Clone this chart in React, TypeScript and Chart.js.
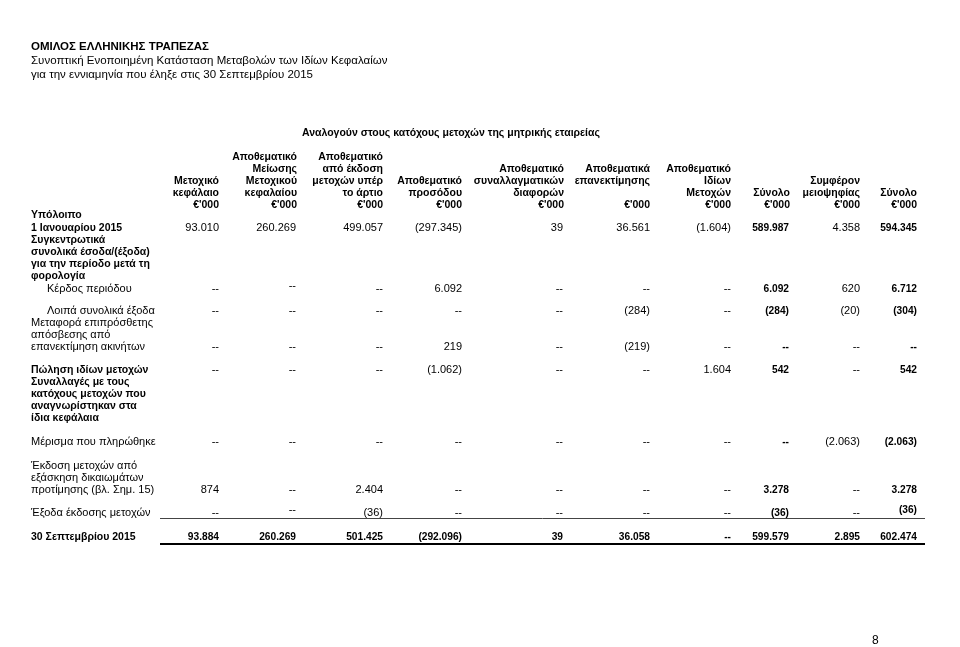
import React, { useEffect, useRef } from "react";
import { Chart, registerables } from "chart.js";

Chart.register(...registerables);

const FONT = '"Liberation Sans", Arial, Helvetica, sans-serif';

// ---------- texts ----------
const titleLines = [
  "ΟΜΙΛΟΣ ΕΛΛΗΝΙΚΗΣ ΤΡΑΠΕΖΑΣ",
  "Συνοπτική Ενοποιημένη Κατάσταση Μεταβολών των Ιδίων Κεφαλαίων",
  "για την εννιαμηνία που έληξε στις 30 Σεπτεμβρίου 2015",
];
const groupHeader = "Αναλογούν στους κατόχους μετοχών της μητρικής εταιρείας";

// header lines of each column (5 header lines, bottom aligned)
const columnHeaders: string[][] = [
  ["", "", "Μετοχικό", "κεφάλαιο", "€'000"],
  ["Αποθεματικό", "Μείωσης", "Μετοχικού", "κεφαλαίου", "€'000"],
  ["Αποθεματικό", "από έκδοση", "μετοχών υπέρ", "το άρτιο", "€'000"],
  ["", "", "Αποθεματικό", "προσόδου", "€'000"],
  ["", "Αποθεματικό", "συναλλαγματικών", "διαφορών", "€'000"],
  ["", "Αποθεματικά", "επανεκτίμησης", "", "€'000"],
  ["", "Αποθεματικό", "Ιδίων", "Μετοχών", "€'000"],
  ["", "", "", "Σύνολο", "€'000"],
  ["", "", "Συμφέρον", "μειοψηφίας", "€'000"],
  ["", "", "", "Σύνολο", "€'000"],
];

// row label lines: [text, bold, indented]
const rowLabels: [string, boolean, boolean][] = [
  ["Υπόλοιπο", true, false],
  ["1 Ιανουαρίου 2015", true, false],
  ["Συγκεντρωτικά", true, false],
  ["συνολικά έσοδα/(έξοδα)", true, false],
  ["για την περίοδο μετά τη", true, false],
  ["φορολογία", true, false],
  ["Κέρδος περιόδου", false, true],
  ["Λοιπά συνολικά έξοδα", false, true],
  ["Μεταφορά επιπρόσθετης", false, false],
  ["απόσβεσης από", false, false],
  ["επανεκτίμηση ακινήτων", false, false],
  ["Πώληση ιδίων μετοχών", true, false],
  ["Συναλλαγές με τους", true, false],
  ["κατόχους μετοχών που", true, false],
  ["αναγνωρίστηκαν στα", true, false],
  ["ίδια κεφάλαια", true, false],
  ["Μέρισμα που πληρώθηκε", false, false],
  ["Έκδοση μετοχών από", false, false],
  ["εξάσκηση δικαιωμάτων", false, false],
  ["προτίμησης (βλ. Σημ. 15)", false, false],
  ["Έξοδα έκδοσης μετοχών", false, false],
  ["30 Σεπτεμβρίου 2015", true, false],
];

// ---------- values (€'000), null = "--" ----------
const shareCapital = [93010, null, null, null, null, null, 874, null, 93884];
const capitalReductionReserve = [260269, null, null, null, null, null, null, null, 260269];
const sharePremiumReserve = [499057, null, null, null, null, null, 2404, -36, 501425];
const retainedEarnings = [-297345, 6092, null, 219, -1062, null, null, null, -292096];
const fxReserve = [39, null, null, null, null, null, null, null, 39];
const revaluationReserve = [36561, null, -284, -219, null, null, null, null, 36058];
const treasuryShares = [-1604, null, null, null, 1604, null, null, null, null];
const parentTotal = [589987, 6092, -284, null, 542, null, 3278, -36, 599579];
const minorityInterest = [4358, 620, -20, null, null, -2063, null, null, 2895];
const totalEquity = [594345, 6712, -304, null, 542, -2063, 3278, -36, 602474];

const seriesValues: (number | null)[][] = [
  shareCapital,
  capitalReductionReserve,
  sharePremiumReserve,
  retainedEarnings,
  fxReserve,
  revaluationReserve,
  treasuryShares,
  parentTotal,
  minorityInterest,
  totalEquity,
];
const boldColumns = [false, false, false, false, false, false, false, true, false, true];
const boldRows = [false, false, false, false, false, false, false, false, true];

// ---------- layout (page pixel coordinates) ----------
const colRight = [219, 296, 383, 462, 563, 650, 731, 789, 860, 917];
const valueRowY = [228, 289, 311, 347, 370, 442, 490, 513, 537];
const labelY = [215, 228, 240, 252, 264, 276, 289, 311, 323, 335, 347, 370, 382, 394, 406, 418, 442, 466, 478, 490, 513, 537];
const headerLineY = [157, 169, 181, 193, 205];
const titleY = [47, 61, 75];
// cells printed slightly raised in the source document: [row, column]
const raisedCells: [number, number][] = [[1, 1], [7, 1], [7, 9]];

const SIZE = 11;
const BOLD_SIZE = 10.5;
const BOLD_VALUE_SIZE = 10.2;
const TITLE_SIZE = 11.5;

function fmt(v: number | null): string {
  if (v === null) return "--";
  const s = Math.abs(v)
    .toString()
    .replace(/\B(?=(\d{3})+(?!\d))/g, ".");
  return v < 0 ? "(" + s + ")" : s;
}

const tablePlugin = {
  id: "tablePlugin",
  afterDraw(chart: any) {
    const ctx = chart.ctx as CanvasRenderingContext2D;
    const xs = chart.scales.x;
    const ys = chart.scales.y;
    const X = (v: number) => xs.getPixelForValue(v);
    const Y = (v: number) => ys.getPixelForValue(v);
    ctx.save();
    ctx.fillStyle = "#000";
    ctx.textBaseline = "middle";

    // title
    ctx.textAlign = "left";
    titleLines.forEach((t, i) => {
      ctx.font = (i === 0 ? "bold " : "") + TITLE_SIZE + "px " + FONT;
      ctx.fillText(t, X(31), Y(titleY[i]));
    });

    // group header
    ctx.font = "bold " + BOLD_SIZE + "px " + FONT;
    ctx.fillText(groupHeader, X(302), Y(133));

    // column headers
    ctx.textAlign = "right";
    columnHeaders.forEach((lines, c) => {
      lines.forEach((t, li) => {
        if (t) ctx.fillText(t, X(colRight[c] + (c === 1 || c === 4 || c === 7 ? 1 : 0)), Y(headerLineY[li]));
      });
    });

    // row labels
    ctx.textAlign = "left";
    rowLabels.forEach(([t, bold, indent], i) => {
      ctx.font = bold ? "bold " + BOLD_SIZE + "px " + FONT : SIZE + "px " + FONT;
      ctx.fillText(t, X(indent ? 47 : 31), Y(labelY[i]));
    });

    // cell values from dataset elements
    ctx.textAlign = "right";
    chart.data.datasets.forEach((ds: any, c: number) => {
      const meta = chart.getDatasetMeta(c);
      meta.data.forEach((el: any, r: number) => {
        const bold = boldColumns[c] || boldRows[r];
        const raised = raisedCells.some(([rr, cc]) => rr === r && cc === c);
        ctx.font = bold ? "bold " + BOLD_VALUE_SIZE + "px " + FONT : SIZE + "px " + FONT;
        ctx.fillText(fmt(ds.data[r].v), el.x, el.y - (raised ? 3 : 0));
      });
    });

    // rules
    ctx.strokeStyle = "#444";
    ctx.lineWidth = 1;
    ctx.beginPath();
    ctx.moveTo(X(160), Y(518.5));
    ctx.lineTo(X(925), Y(518.5));
    ctx.stroke();
    ctx.strokeStyle = "#000";
    ctx.lineWidth = 2;
    ctx.beginPath();
    ctx.moveTo(X(160), Y(544));
    ctx.lineTo(X(925), Y(544));
    ctx.stroke();

    // page number
    ctx.textAlign = "left";
    ctx.font = "12px " + FONT;
    ctx.fillText("8", X(872), Y(641));
    ctx.restore();
  },
};

export default function App() {
  const ref = useRef<HTMLCanvasElement | null>(null);
  useEffect(() => {
    document.body.style.margin = "0";
    document.body.style.background = "#fff";
    const canvas = ref.current;
    if (!canvas) return;
    const chart = new Chart(canvas, {
      type: "scatter",
      data: {
        datasets: seriesValues.map((vals, c) => ({
          label: columnHeaders[c].filter(Boolean).join(" "),
          data: vals.map((v, r) => ({ x: colRight[c], y: valueRowY[r], v })),
          pointRadius: 0,
          pointHoverRadius: 0,
        })),
      } as any,
      options: {
        animation: false,
        responsive: false,
        maintainAspectRatio: false,
        layout: { padding: 0 },
        events: [],
        scales: {
          x: { type: "linear", min: 0, max: 960, display: false },
          y: { type: "linear", min: 0, max: 647, reverse: true, display: false },
        },
        plugins: {
          legend: { display: false },
          tooltip: { enabled: false },
          title: { display: false },
        },
      },
      plugins: [tablePlugin],
    });
    return () => chart.destroy();
  }, []);
  return (
    <div style={{ width: 960, height: 647, background: "#fff" }}>
      <canvas ref={ref} width={960} height={647} style={{ display: "block" }} />
    </div>
  );
}
